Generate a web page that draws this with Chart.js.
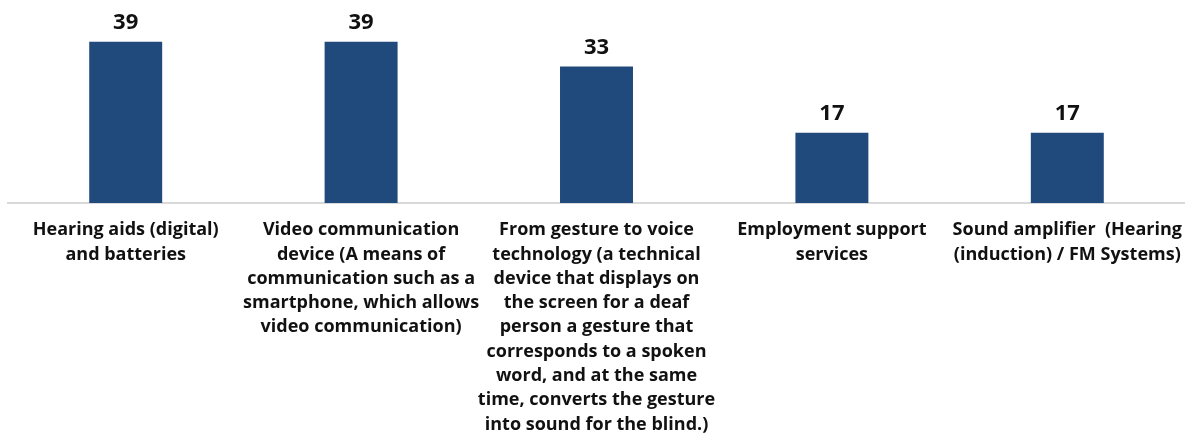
<!DOCTYPE html>
<html>
<head>
<meta charset="utf-8">
<script src="https://cdn.jsdelivr.net/npm/chart.js@4"></script>
<style>
    html, body { margin: 0; padding: 0; background: #fff; }
    #wrap { position: relative; width: 1185px; height: 433px; }
</style>
</head>
<body>
<div id="wrap"><canvas id="chart"></canvas></div>
<script>
const categories = [
    ["Hearing aids (digital)", "and batteries"],
    ["Video communication", "device (A means of", "communication such as a", "smartphone, which allows", "video communication)"],
    ["From gesture to voice", "technology (a technical", "device that displays on", "the screen for a deaf", "person a gesture that", "corresponds to a spoken", "word, and at the same", "time, converts the gesture", "into sound for the blind.)"],
    ["Employment support", "services"],
    ["Sound amplifier  (Hearing", "(induction) / FM Systems)"]
];
const values = [39, 39, 33, 17, 17];

const FONT = "'Open Sans', 'Noto Sans', sans-serif";

// value printed above each bar
const valueLabels = {
    id: "valueLabels",
    afterDatasetsDraw(chart) {
        const ctx = chart.ctx;
        ctx.save();
        ctx.font = `bold 22px ${FONT}`;
        ctx.fillStyle = "#111";
        ctx.textAlign = "center";
        ctx.textBaseline = "bottom";
        chart.getDatasetMeta(0).data.forEach((bar, i) => {
            ctx.fillText(values[i], bar.x, bar.y - 8);
        });
        ctx.restore();
    }
};

new Chart(document.getElementById("chart"), {
    type: "bar",
    data: {
        labels: categories,
        datasets: [{ data: values, backgroundColor: "#204a7b", barPercentage: 0.31, categoryPercentage: 1 }]
    },
    options: {
        responsive: true,
        maintainAspectRatio: false,
        animation: false,
        layout: { padding: { left: 8, right: 0, top: 2, bottom: 0 } },
        plugins: { legend: { display: false }, tooltip: { enabled: false } },
        scales: {
            x: {
                grid: { display: false },
                border: { display: true, color: "#d9d9d9", width: 2 },
                ticks: {
                    autoSkip: false, maxRotation: 0, padding: 7, color: "#111",
                    font: { family: FONT, size: 18, weight: "bold", lineHeight: 1.35 }
                },
                // fixed label band, and let the wide last label run to the edge
                afterFit: (scale) => { scale.height = 230; scale.paddingLeft = 0; scale.paddingRight = 0; }
            },
            y: { display: false, min: 0, max: 48.6 }
        }
    },
    plugins: [valueLabels]
});
</script>
</body>
</html>
